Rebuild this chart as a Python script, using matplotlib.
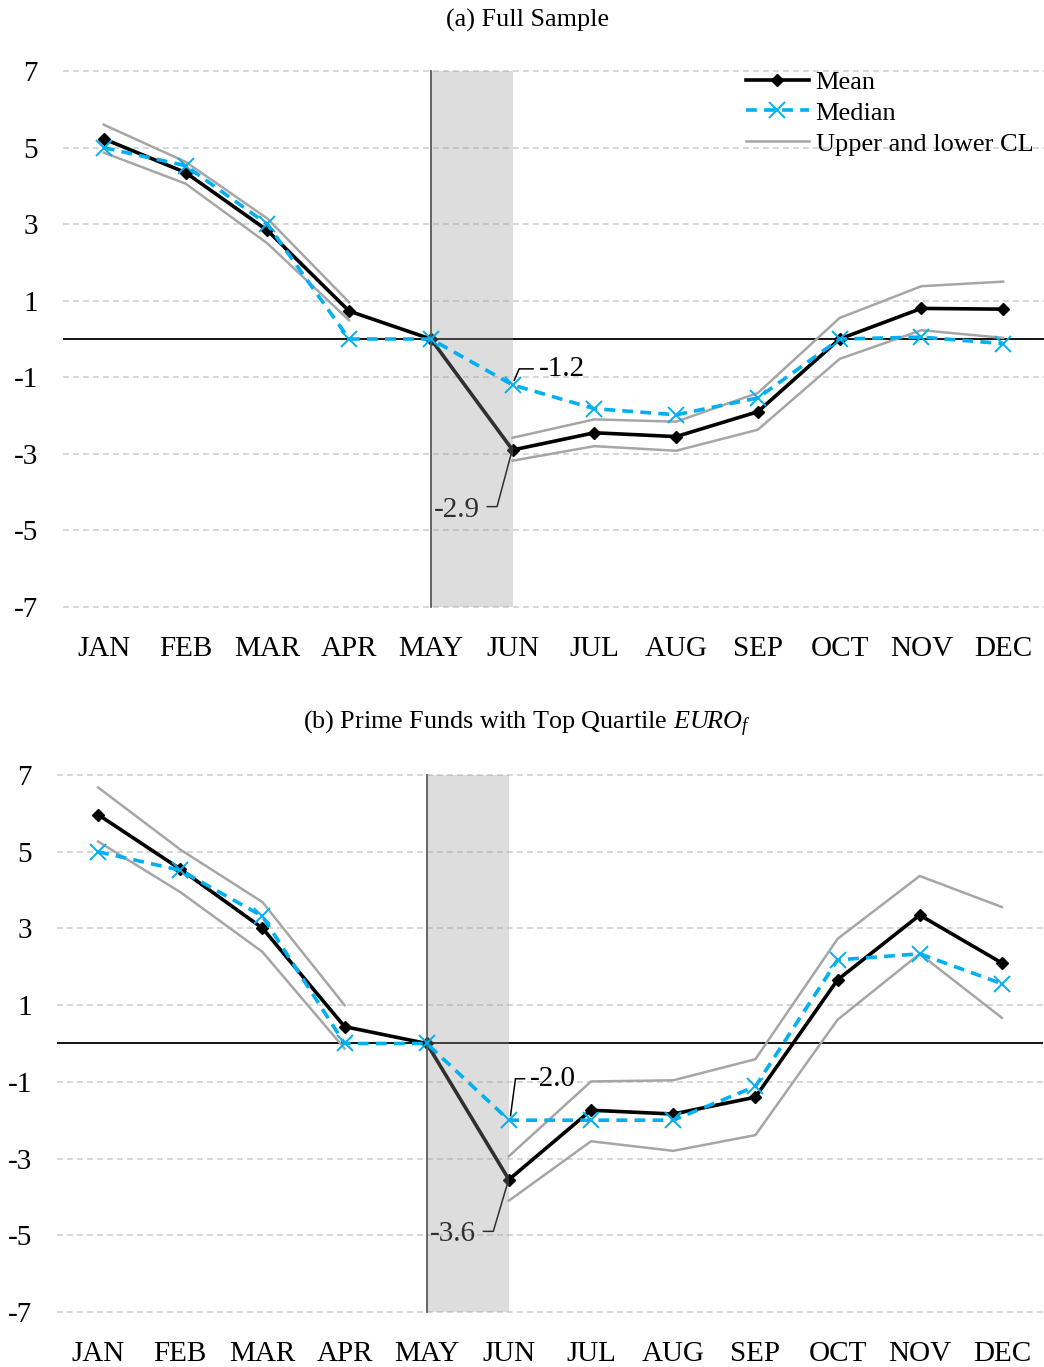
import numpy as np
import matplotlib
matplotlib.use("Agg")
import matplotlib.pyplot as plt

plt.rcParams["font.family"] = ["Liberation Serif", "DejaVu Serif"]
plt.rcParams["mathtext.fontset"] = "custom"
plt.rcParams["mathtext.it"] = "Liberation Serif:italic"
plt.rcParams["mathtext.rm"] = "Liberation Serif"

months = ["JAN", "FEB", "MAR", "APR", "MAY", "JUN",
          "JUL", "AUG", "SEP", "OCT", "NOV", "DEC"]
yticks = [7, 5, 3, 1, -1, -3, -5, -7]
nan = np.nan

# (a) Full sample
mean_a = [5.23, 4.35, 2.84, 0.73, 0.0, -2.9, -2.45, -2.55, -1.9, 0.0, 0.8, 0.78]
median_a = [5.0, 4.53, 3.0, 0.0, 0.0, -1.2, -1.82, -1.98, -1.54, 0.0, 0.05, -0.12]
upper_a = [5.6, 4.63, 3.15, 0.96, nan, -2.58, -2.1, -2.16, -1.41, 0.55, 1.38, 1.5]
lower_a = [4.87, 4.06, 2.5, 0.49, nan, -3.18, -2.8, -2.92, -2.37, -0.52, 0.23, 0.03]

# (b) Prime funds with top quartile EURO_f
mean_b = [5.97, 4.55, 3.01, 0.44, 0.0, -3.55, -1.74, -1.84, -1.4, 1.66, 3.35, 2.1]
median_b = [5.0, 4.52, 3.32, 0.0, 0.0, -2.0, -2.0, -2.0, -1.12, 2.18, 2.34, 1.56]
upper_b = [6.68, 5.06, 3.69, 1.0, nan, -2.94, -0.99, -0.96, -0.41, 2.73, 4.37, 3.56]
lower_b = [5.27, 3.95, 2.39, -0.13, nan, -4.1, -2.55, -2.8, -2.39, 0.62, 2.34, 0.67]

panels = [
    ("(a) Full Sample", mean_a, median_a, upper_a, lower_a, "-1.2", "-2.9",
     [0.0603, 0.5552, 0.9397, 0.3936], 0.9854, 0.42, 1.56, 5.32),
    (r"(b) Prime Funds with Top Quartile $EURO_f$", mean_b, median_b, upper_b,
     lower_b, "-2.0", "-3.6", [0.0546, 0.0395, 0.9444, 0.3943], 0.4705, 1.08, 1.43, 5.26),
]

fig = plt.figure(figsize=(10.44, 13.67), dpi=100)
x = np.arange(len(months))

for k, (title, mean, median, upper, lower, lab_med, lab_mean, rect, ty,
        off_med, off_mean, tx_med) in enumerate(panels):
    ax = fig.add_axes(rect)
    for s in ax.spines.values():
        s.set_visible(False)
    ax.set_xlim(-0.5, 11.5)
    ax.set_ylim(-7.03, 7.03)
    for yv in yticks:
        ax.axhline(yv, color="#d0d0d0", lw=1.2, ls=(0, (3.5, 2.5)), zorder=0)
    ax.axhline(0, color="black", lw=1.3, zorder=1)

    ax.plot(x, upper, color="#a6a6a6", lw=1.8, zorder=2, label="Upper and lower CL")
    ax.plot(x, lower, color="#a6a6a6", lw=1.8, zorder=2)
    ax.plot(x, mean, color="black", lw=2.6, marker="D", ms=6.5, zorder=3, label="Mean")

    # June labels with leader lines
    ym, yn = median[5], mean[5]
    ax.plot([5.02, 5.08, tx_med - 0.07], [ym + 0.12, ym + off_med, ym + off_med],
            color="black", lw=1.1, zorder=3)
    ax.text(tx_med, ym + off_med, lab_med, fontsize=21, va="center", ha="left", zorder=3)
    ax.plot([4.98, 4.81, 4.69], [yn - 0.12, yn - off_mean + 0.08, yn - off_mean + 0.08],
            color="black", lw=1.1, zorder=3)
    ax.text(4.6, yn - off_mean, lab_mean, fontsize=21, va="center", ha="right", zorder=3)

    # shaded month (May -> Jun), drawn over the mean line
    ax.fill_between([4, 5], -7, 7, color="#979797", alpha=0.32, lw=0, zorder=4)
    ax.plot([4, 4], [-7, 7], color="#5a5a5a", lw=1.3, zorder=4)

    ax.plot(x, median, color="#00b0f0", lw=2.6, ls=(0, (3, 2)), marker="x",
            ms=11, mew=1.4, zorder=5, label="Median")

    ax.set_xticks(x)
    ax.set_xticklabels(months, fontsize=21)
    ax.set_yticks(yticks)
    ax.set_yticklabels([str(v) for v in yticks], fontsize=21)
    ax.tick_params(length=0, axis="x", pad=20)
    ax.tick_params(length=0, axis="y", pad=18)

    fig.text(0.505, ty, title, ha="center", va="center", fontsize=18.8)

    if k == 0:
        h, l = ax.get_legend_handles_labels()
        order = [1, 2, 0]
        ax.legend([h[i] for i in order], [l[i] for i in order], loc="upper right",
                  bbox_to_anchor=(1.0, 1.019), frameon=False, fontsize=19,
                  handlelength=2.4, handletextpad=0.25, labelspacing=0.28,
                  borderaxespad=0.0)

fig.savefig("out.png", dpi=100)
